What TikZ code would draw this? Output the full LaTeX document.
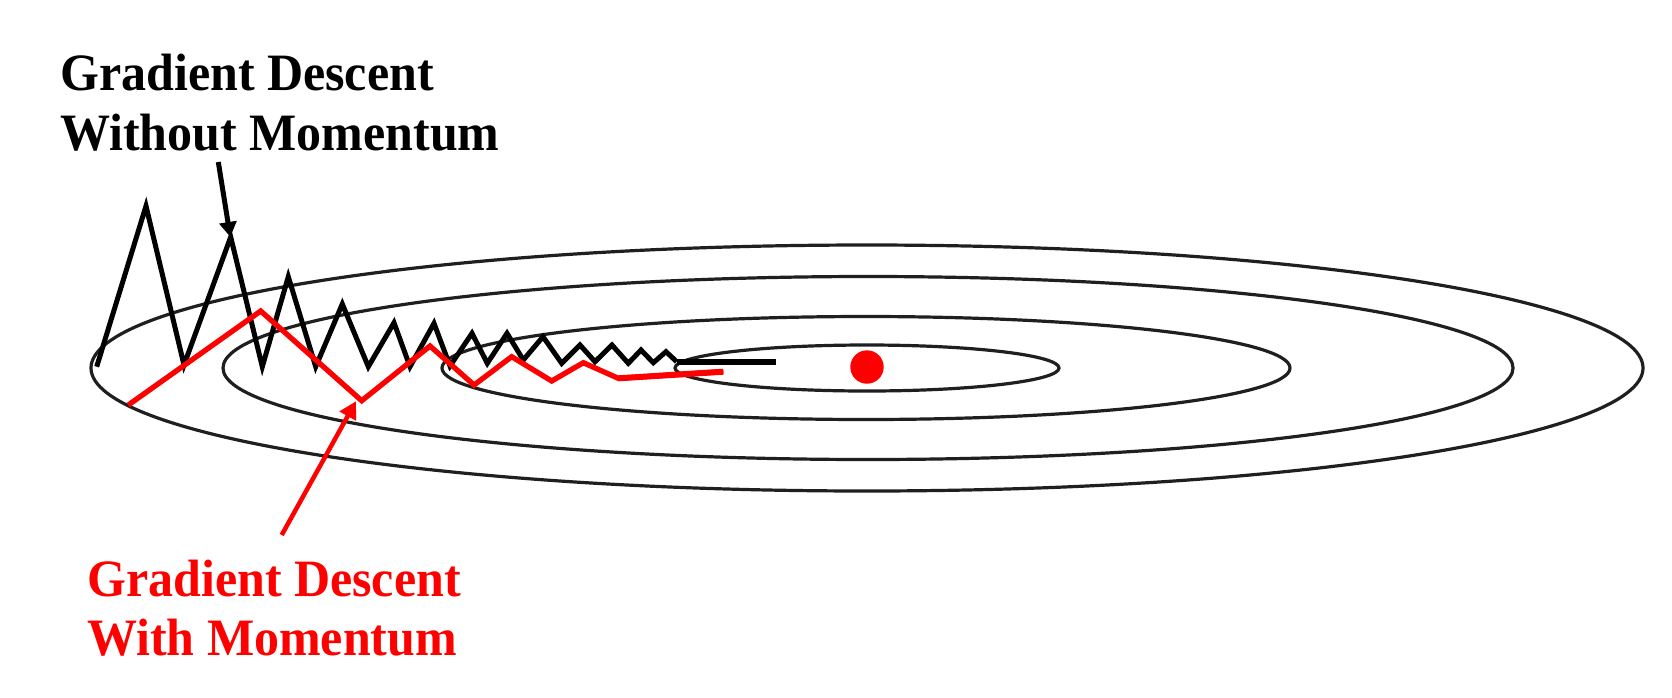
\documentclass[tikz,border=0pt]{standalone}
\usepackage{fontspec}
\setmainfont{Liberation Serif}
\usetikzlibrary{arrows.meta}
\newcommand{\tallertext}[1]{\scalebox{1}[1.05]{#1}}
\tikzset{
  contour/.style={draw=black!88, line width=3.2pt},
  plainpath/.style={draw=black, line width=5pt, line join=miter, miter limit=20},
  mompath/.style={draw=red, line width=5.3pt, line join=miter, miter limit=20},
  lbl/.style={inner sep=0pt, anchor=base west, font=\fontsize{50}{60}\selectfont\bfseries},
  blackarrow/.style={draw=black, line width=5pt, -{Triangle[length=15pt,width=17pt]}, shorten >=-2pt},
  redarrow/.style={draw=red, line width=4.5pt, -{Triangle[length=17pt,width=18pt]}, shorten >=-2pt}
}
\begin{document}
\begin{tikzpicture}[x=1pt,y=-1pt]
\useasboundingbox (0,0) rectangle (1672,697);
\fill[white] (0,0) rectangle (1672,697);
% contours
\draw[contour] (867,368) ellipse [x radius=776pt, y radius=123pt];
\draw[contour] (868,368) ellipse [x radius=645pt, y radius=91.5pt];
\draw[contour] (866,368) ellipse [x radius=424pt, y radius=51.5pt];
\draw[contour] (867,368) ellipse [x radius=192pt, y radius=23pt];
% minimum
\fill[red] (867,367) circle [radius=16.7pt];
% path without momentum
\draw[plainpath] (96.7,366.7) -- (146,206) -- (184,365) -- (230.7,237) -- (262.3,366.7)
  -- (288.3,276.7) -- (315.7,366.7) -- (342.3,304) -- (368.3,366.7) -- (394,322.7)
  -- (410,366.7) -- (434,323.3) -- (450,366) -- (472,333.3) -- (487.3,363.3)
  -- (507,333.3) -- (523.3,360) -- (543,336.7) -- (561.7,363.3) -- (580,345)
  -- (595,361.7) -- (612,345) -- (628.3,363.3) -- (641,350) -- (653.3,362.7)
  -- (666,351.7) -- (676.7,361.7);
\draw[draw=black, line width=6pt] (676.7,361.7) -- (776,361.7);
% path with momentum
\draw[mompath] (128.3,405) -- (260.7,311) -- (361.7,400.7) -- (430,346) -- (474,385)
  -- (511.7,356.7) -- (551.7,381) -- (583.3,362.7) -- (618.3,378.3) -- (723.3,371.7);
\draw[draw=red, line width=6pt] (618.3,378.3) -- (723.3,371.7);
% labels
\node[lbl] (nm1) at (60,90) {\tallertext{Gradient Descent}};
\node[lbl] (nm2) at (60,150) {\tallertext{Without Momentum}};
\node[lbl, text=red] (wm1) at (87,596) {\tallertext{Gradient Descent}};
\node[lbl, text=red] (wm2) at (87,655) {\tallertext{With Momentum}};
% arrows
\coordinate (nmtail) at (218.3,162);
\coordinate (nmtip) at (230,235);
\coordinate (wmtail) at (281.7,535);
\coordinate (wmtip) at (355,403);
\draw[blackarrow] (nmtail) -- (nmtip);
\draw[redarrow] (wmtail) -- (wmtip);
\end{tikzpicture}
\end{document}
